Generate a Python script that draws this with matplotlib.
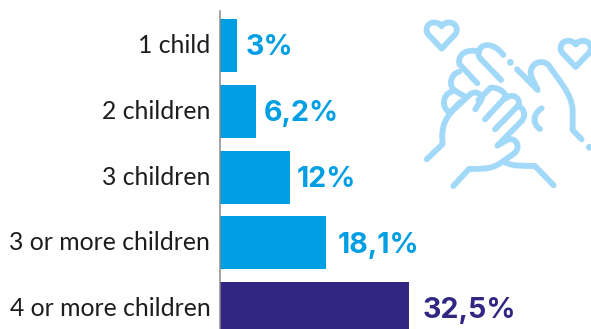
import matplotlib
matplotlib.use("Agg")
import matplotlib.pyplot as plt
from matplotlib.path import Path
from matplotlib.patches import PathPatch, Circle

categories = ["1 child", "2 children", "3 children", "3 or more children", "4 or more children"]
values = [3.0, 6.2, 12.0, 18.1, 32.5]
value_labels = ["3%", "6,2%", "12%", "18,1%", "32,5%"]
bar_colors = ["#009fe3", "#009fe3", "#009fe3", "#009fe3", "#312783"]
label_gaps = [8, 8, 7, 12, 13]

W, H = 591, 329
fig = plt.figure(figsize=(W / 100, H / 100), dpi=100)
fig.patch.set_facecolor("white")

ax = fig.add_axes([220 / W, 0, 371 / W, (329 - 11) / H])
ax.barh(range(len(values)), values, height=0.806, color=bar_colors, linewidth=0, zorder=2)
ax.set_xlim(0, 371 / 5.83)
ax.set_ylim(4.31, -0.525)
ax.set_yticks(range(len(categories)), categories)
ax.tick_params(axis="y", length=0, pad=7, labelsize=17.8, labelcolor="#1d1d1b")
for lab in ax.get_yticklabels():
    lab.set_family("Lato")
    lab.set_verticalalignment("center")
ax.set_xticks([])
for side in ("top", "right", "bottom"):
    ax.spines[side].set_visible(False)
ax.spines["left"].set_color("#8a8a8a")
ax.spines["left"].set_linewidth(1.1)

for i, (v, txt, col, gap) in enumerate(zip(values, value_labels, bar_colors, label_gaps)):
    ax.annotate(txt, (v, i), xytext=(gap * 0.72, -1.6), textcoords="offset points",
                va="center", ha="left", color=col, fontsize=20.6,
                fontweight="bold", family="Inter")

# Decorative line icon: two clasped hands with hearts
icon = fig.add_axes([0, 0, 1, 1], facecolor="none")
icon.set_xlim(-400 * 3, (W - 400) * 3)
icon.set_ylim(H * 3, 0)
icon.axis("off")
ICON = "#a3d9f8"
M, L, C = Path.MOVETO, Path.LINETO, Path.CURVE4


def stroke(start, *segments):
    verts, codes = [start], [M]
    for seg in segments:
        if len(seg) == 1:
            verts += seg
            codes += [L]
        else:
            verts += seg
            codes += [C, C, C]
    icon.add_patch(PathPatch(Path(verts, codes), fill=False, ec=ICON, lw=4.2,
                             capstyle="round", joinstyle="round"))


def heart(cx, cy):
    p = lambda x, y: (cx + x, cy + y)
    stroke(p(0, -22),
           [p(-12, -38), p(-42, -36), p(-45, -14)],
           [p(-47, 0), p(-38, 6), p(-32, 12)],
           [p(0, 46)],
           [p(32, 12)],
           [p(38, 6), p(47, 0), p(45, -14)],
           [p(42, -36), p(12, -38), p(0, -22)])


heart(125, 100)
heart(527, 155)

# back hand fingers
stroke((310, 165), [(285, 130), (245, 125), (235, 155)], [(232, 170), (245, 180), (250, 185)], [(303, 240)])
stroke((238, 155), [(205, 145), (172, 160), (178, 192)], [(232, 250)])
stroke((178, 215), [(150, 222), (145, 260), (165, 272)], [(195, 290)])
stroke((155, 275), [(125, 285), (125, 325), (150, 338)], [(182, 305)])

# front hand outline
stroke((80, 478), [(128, 432)], [(122, 385), (135, 355), (160, 330)], [(205, 288)],
       [(222, 268), (248, 280), (245, 298)], [(226, 328)])
stroke((235, 300), [(272, 263)], [(292, 262), (312, 272), (318, 290)], [(255, 358)])
stroke((318, 295), [(335, 278), (362, 292), (356, 315)], [(285, 388)])
stroke((356, 318), [(380, 332), (375, 355), (360, 368)], [(292, 437)],
       [(325, 418)], [(350, 412), (365, 445), (340, 462)], [(300, 490)],
       [(270, 510), (240, 506), (207, 507)], [(160, 558)])
stroke((315, 487), [(340, 500), (370, 497), (405, 498)], [(461, 556)])

# right hand
stroke((351, 208), [(413, 270)], [(395, 232)], [(380, 195), (425, 170), (448, 198)],
       [(475, 240), (515, 280), (518, 330)], [(518, 390)], [(545, 418)])
stroke((425, 325), [(400, 340), (395, 370), (420, 387)])

for centre in [(331, 187), (568, 442)]:
    icon.add_patch(Circle(centre, 10, fc=ICON, ec="none"))

fig.savefig("out.png", dpi=100)
